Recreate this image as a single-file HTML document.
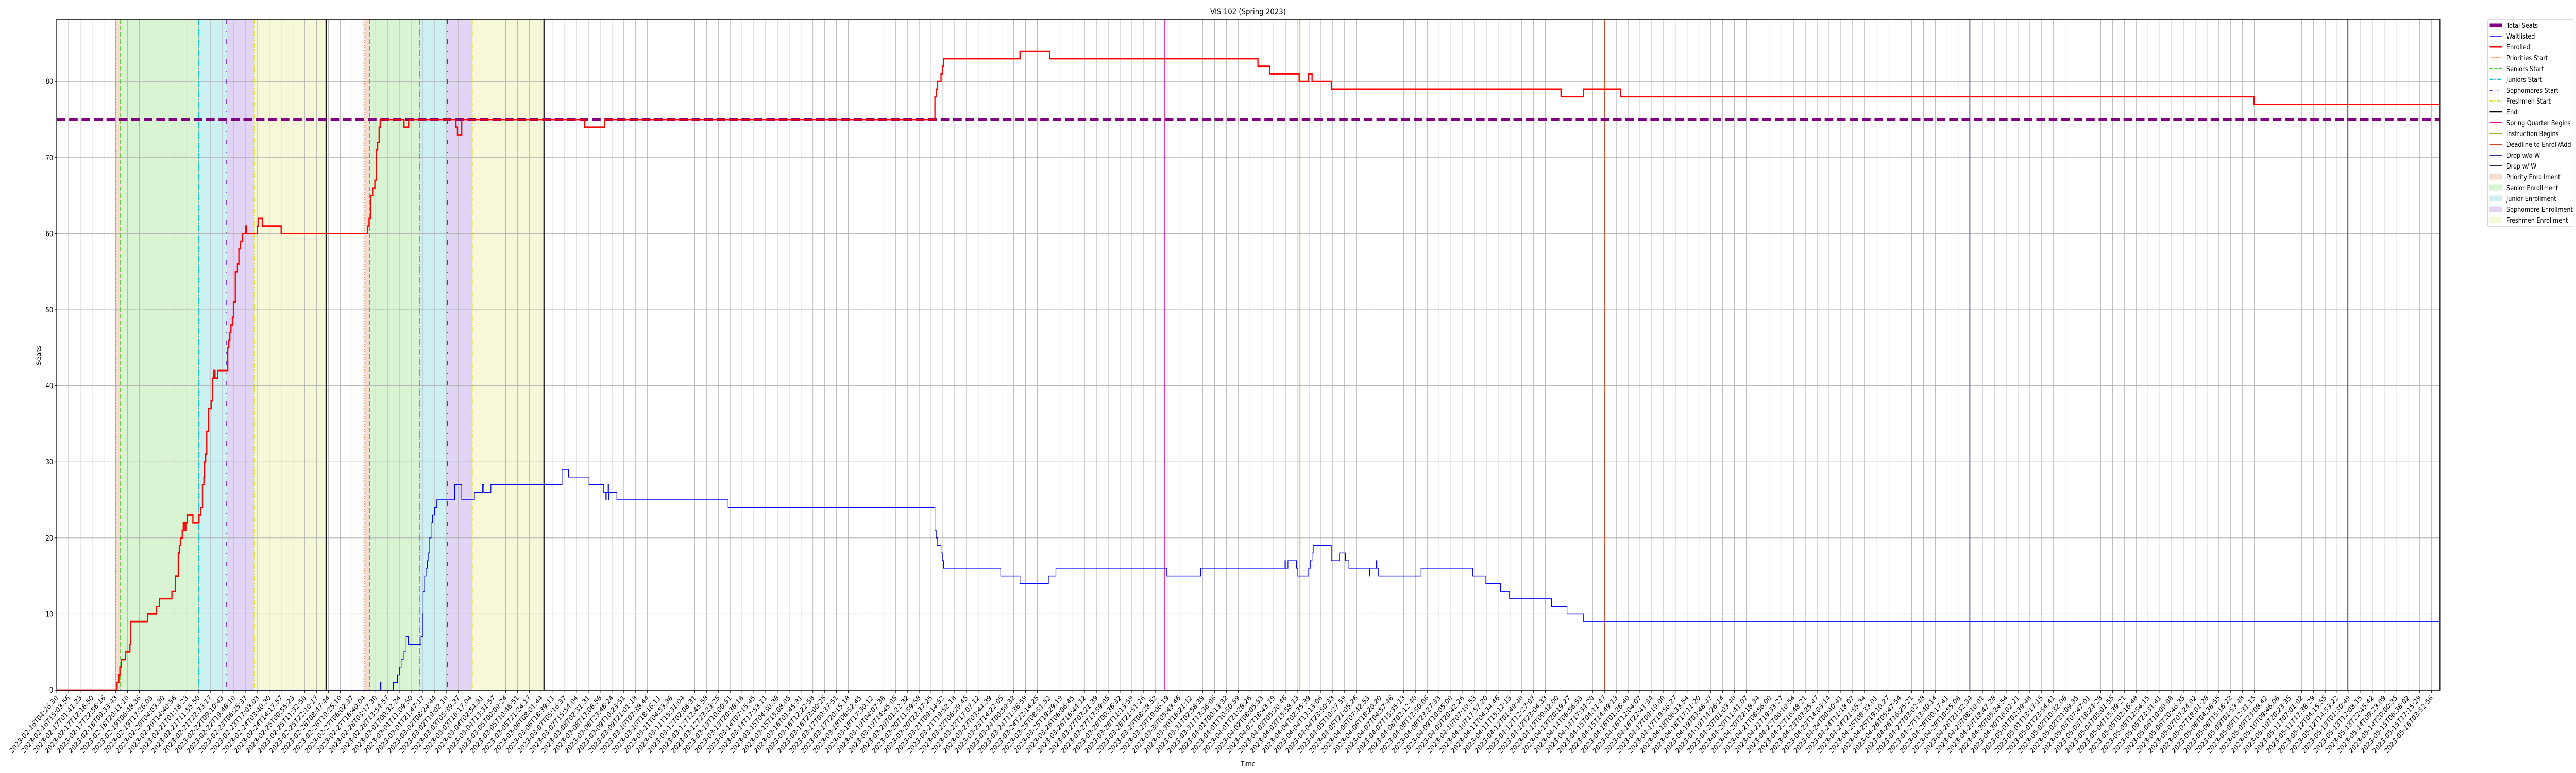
<!DOCTYPE html>
<html><head><meta charset="utf-8">
<meta name="viewport" content="width=6000, initial-scale=1">
<style>
html,body{margin:0;padding:0;background:#fff;width:100%;height:100%;overflow:hidden;}
svg{display:block;position:fixed;left:0;top:0;width:100vw;height:100vh;overflow:hidden;font-family:"DejaVu Sans","Liberation Sans",sans-serif;}
</style></head>
<body>
<svg id="chart" viewBox="0 0 6000 1500" preserveAspectRatio="none" xmlns="http://www.w3.org/2000/svg">
<rect x="0" y="0" width="6000" height="1500" fill="#fff"/>
<g id="spans"></g><g id="grid"></g><g id="vlines"></g><g id="series"></g><g id="axes"></g>
<text x="2907" y="28" font-size="16" text-anchor="middle">VIS 102 (Spring 2023)</text>
<text x="2907" y="1487" font-size="14" text-anchor="middle">Time</text>
<text x="95" y="690" font-size="14" text-anchor="middle" transform="rotate(-90 95 690)">Seats</text>
<g id="legend"></g>
</svg>
<script>
// ---- data (x in tick-index units, tick 0 = first label) ----
const enrolledT = [0,5.11,5.26,5.35,5.47,5.83,6.2,6.26,7.7,8.43,8.7,9.75,10.05,10.29,10.38,10.47,10.63,10.72,10.87,10.93,11.05,11.53,12.04,12.19,12.34,12.46,12.52,12.61,12.7,12.86,13.07,13.19,13.3,13.4,13.64,14.48,14.57,14.66,14.75,14.87,14.96,15.12,15.3,15.42,15.54,15.72,15.99,16.08,16.98,17.07,17.4,19.0,26.32,26.44,26.56,26.74,26.93,27.05,27.17,27.29,27.38,29.4,29.79,33.8,33.92,34.28,44.7,46.39,74.33,74.44,74.56,74.85,74.96,75.07,81.53,84.05,101.67,102.68,105.16,105.96,106.25,107.88,127.32,129.21,132.37,185.97];
const enrolledV = [0,1,2,3,4,5,6,9,10,11,12,13,15,18,19,20,21,22,21,22,23,22,23,24,27,28,30,31,34,37,38,41,42,41,42,45,46,47,48,49,51,55,56,58,59,60,61,60,61,62,61,60,61,62,65,66,67,71,72,74,75,74,75,74,73,75,74,75,78,79,80,81,82,83,84,83,82,81,80,81,80,79,78,79,78,77];
const waitT = [0,27.41,27.45,28.49,28.85,29.03,29.16,29.34,29.58,29.76,30.84,30.96,31.02,31.14,31.26,31.38,31.44,31.57,31.69,31.81,31.99,32.17,33.68,34.28,35.36,36.03,36.15,36.75,42.77,43.32,45.06,46.3,46.48,46.52,46.67,46.71,46.75,47.41,56.83,74.33,74.44,74.56,74.85,74.96,75.07,79.9,81.53,83.94,84.57,93.96,96.83,103.96,104.0,104.21,104.94,105.05,105.96,106.1,106.25,106.35,107.88,108.57,109.08,109.37,111.1,111.14,111.7,111.74,111.88,115.48,119.84,120.96,122.2,122.96,126.52,127.83,129.21];
const waitV = [0,1,0,1,2,3,4,5,7,6,7,10,13,15,16,17,18,20,22,23,24,25,27,25,26,27,26,27,29,28,27,26,25,26,27,25,26,25,24,21,20,19,18,17,16,15,14,15,16,15,16,17,16,17,16,15,16,17,18,19,17,18,17,16,15,16,17,16,15,16,15,14,13,12,11,10,9];
const totalSeats = [75];
const yTicks = [0,10,20,30,40,50,60,70,80];
const tickCount = [202];
const tickStart = ["2023-02-16T04:26:30"];
const tickEnd = ["2023-05-16T03:52:56"];
const priorityStarts = [4.99, 26.08];
const seniorStarts = [5.41, 26.5];
const juniorStarts = [12.04, 30.72];
const sophStarts = [14.39, 33.07];
const freshStarts = [16.71, 35.18];
const endLines = [22.8, 41.24];
const springBegins = [93.75];
const instructionBegins = [105.23];
const deadlineAdd = [131.03];
const dropNoW = [161.92];
const dropW = [193.86];

// ---- axes ----
const X0=132, XR=5683, TICKPX=27.52, Y0=1339, YTOP=37, PXPERSEAT=14.76;
const xMax=(XR-X0)/TICKPX;
function xs(t){return X0+t*TICKPX;}
function ys(v){return Y0-v*PXPERSEAT;}
const NS='http://www.w3.org/2000/svg';
function mk(tag,attrs,parent){const e=document.createElementNS(NS,tag);for(const k in attrs)e.setAttribute(k,attrs[k]);parent.appendChild(e);return e;}
const gS=document.getElementById('spans'),gG=document.getElementById('grid'),gV=document.getElementById('vlines'),gSer=document.getElementById('series'),gA=document.getElementById('axes');

const spanDefs=[[priorityStarts,seniorStarts,'#f6ddd1','priority-enrollment-span'],[seniorStarts,juniorStarts,'#d9f4d2','senior-enrollment-span'],[juniorStarts,sophStarts,'#cdf0f2','junior-enrollment-span'],[sophStarts,freshStarts,'#e1d4f5','sophomore-enrollment-span'],[freshStarts,endLines,'#f6f8d8','freshmen-enrollment-span']];
spanDefs.forEach(d=>{for(let k=0;k<d[0].length;k++){const r=mk('rect',{x:xs(d[0][k]),y:YTOP,width:xs(d[1][k])-xs(d[0][k]),height:Y0-YTOP,fill:d[2]},gS);

}});

const n=tickCount[0];
const t0=Date.parse(tickStart[0]+'Z'), t1=Date.parse(tickEnd[0]+'Z');
for(let i=0;i<n;i++){
  const x=xs(i);
  mk('line',{x1:x,y1:YTOP,x2:x,y2:Y0,stroke:'#b0b0b0','stroke-width':1},gG);
  mk('line',{x1:x,y1:Y0,x2:x,y2:Y0+5,stroke:'#000','stroke-width':1},gA);
  const lab=new Date(t0+(t1-t0)*i/(n-1)).toISOString().slice(0,19);
  const tx=mk('text',{x:x+4,y:Y0+16,'font-size':14,'text-anchor':'end',transform:`rotate(-45 ${x+4} ${Y0+16})`},gA);
  tx.textContent=lab;
  
  
}
yTicks.forEach(v=>{
  const y=ys(v);
  mk('line',{x1:X0,y1:y,x2:XR,y2:y,stroke:'#b0b0b0','stroke-width':1},gG);
  mk('line',{x1:X0-5,y1:y,x2:X0,y2:y,stroke:'#000','stroke-width':1},gA);
  const tx=mk('text',{x:X0-8,y:y+5,'font-size':14,'text-anchor':'end'},gA);
  tx.textContent=v;
  
  
});
const frame=mk('rect',{x:X0,y:YTOP,width:XR-X0,height:Y0-YTOP,fill:'none',stroke:'#000','stroke-width':1.5},gA);



const vDefs=[[priorityStarts,'#f4733a','2','2 3','priorities-start-line'],[seniorStarts,'#3ccc14','2','9 4','seniors-start-line'],[juniorStarts,'#14c4d4','2.5','12 3 2 3','juniors-start-line'],[sophStarts,'#6a22d8','2','9 14 2 14','sophomores-start-line'],[freshStarts,'#e2e23a','2','10 3 2 3 2 3','freshmen-start-line'],[endLines,'#000','2.5','','end-line'],[springBegins,'#e0119a','2','','spring-quarter-begins-line'],[instructionBegins,'#8cb81a','2','','instruction-begins-line'],[deadlineAdd,'#d2451e','2','','deadline-to-add-line'],[dropNoW,'#2b2b9c','2','','drop-without-w-line'],[dropW,'#263656','2','','drop-with-w-line']];
vDefs.forEach(d=>{d[0].forEach(t=>{const a={x1:xs(t),y1:YTOP,x2:xs(t),y2:Y0,stroke:d[1],'stroke-width':d[2]};if(d[3])a['stroke-dasharray']=d[3];const l=mk('line',a,gV);

});});

function stepPath(T,V){let d=`M${xs(T[0])},${ys(V[0])}`;for(let k=1;k<T.length;k++){d+=` H${xs(T[k])} V${ys(V[k])}`;}d+=` H${xs(xMax)}`;return d;}
const ts=mk('line',{x1:X0,y1:ys(totalSeats[0]),x2:XR,y2:ys(totalSeats[0]),stroke:'#800080','stroke-width':6,'stroke-dasharray':'20 9'},gSer);


const wl=mk('path',{d:stepPath(waitT,waitV),fill:'none',stroke:'#0000ff','stroke-width':1.5},gSer);


const en=mk('path',{d:stepPath(enrolledT,enrolledV),fill:'none',stroke:'#ff0000','stroke-width':2.8},gSer);



const gL=document.getElementById('legend');
mk('rect',{x:5794,y:38,width:202,height:402,rx:3,fill:'#fff',stroke:'#d0d0d0','stroke-width':1.2},gL);
const legendItems=[['Total Seats','line','#800080',7,''],['Waitlisted','line','#0000ff',1.5,''],['Enrolled','line','#ff0000',3,''],['Priorities Start','line','#f4733a',2,'2 3'],['Seniors Start','line','#3ccc14',2,'7 4'],['Juniors Start','line','#14c4d4',2.5,'9 3 2 3'],['Sophomores Start','line','#6a22d8',2,'6 12 2 12'],['Freshmen Start','line','#e2e23a',2,'7 2 2 2 2 2'],['End','line','#000',2.5,''],['Spring Quarter Begins','line','#e0119a',2,''],['Instruction Begins','line','#8cb81a',2,''],['Deadline to Enroll/Add','line','#d2451e',2,''],['Drop w/o W','line','#2b2b9c',2,''],['Drop w/ W','line','#263656',2,''],['Priority Enrollment','patch','#f6ddd1'],['Senior Enrollment','patch','#d9f4d2'],['Junior Enrollment','patch','#cdf0f2'],['Sophomore Enrollment','patch','#e1d4f5'],['Freshmen Enrollment','patch','#f6f8d8']];
legendItems.forEach((it,k)=>{
  const y=49+k*21;
  const g=mk('g',{},gL);
  
  
  if(it[1]==='line'){const a={x1:5799,y1:y,x2:5828,y2:y,stroke:it[2],'stroke-width':it[3]};if(it[4])a['stroke-dasharray']=it[4];mk('line',a,g);}
  else mk('rect',{x:5799,y:y-5,width:29,height:10,fill:it[2],stroke:it[2],'stroke-width':1},g);
  const tx=mk('text',{x:5838,y:y+5,'font-size':13.5,fill:'#000'},g);
  tx.textContent=it[0];
});
</script>
</body></html>
